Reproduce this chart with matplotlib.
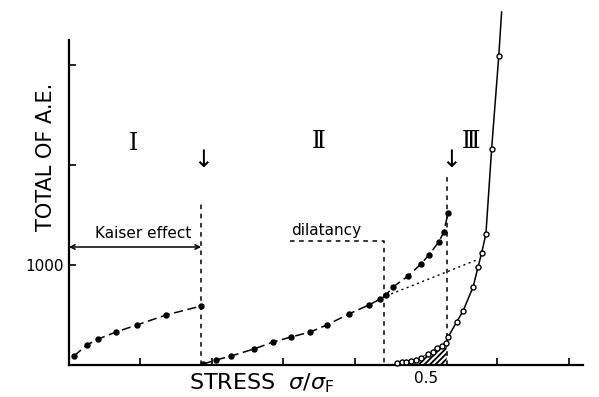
import numpy as np
import matplotlib
matplotlib.use("Agg")
import matplotlib.pyplot as plt

matplotlib.rcParams["hatch.linewidth"] = 1.3

# total A.E. counts vs stress ratio
# region I (Kaiser effect), filled dots
stress_a = [0.007, 0.025, 0.041, 0.066, 0.095, 0.136, 0.185]
ae_a = [90, 200, 260, 330, 400, 500, 590]

# region II, filled dots
stress_b = [0.188, 0.206, 0.227, 0.259, 0.286, 0.311, 0.338, 0.361, 0.392,
            0.420, 0.436, 0.444, 0.454, 0.475, 0.493, 0.504, 0.518, 0.525, 0.531]
ae_b = [10, 50, 90, 160, 230, 280, 330, 400, 510,
        600, 660, 700, 780, 890, 1010, 1100, 1230, 1330, 1520]

# virgin loading, open circles
stress_c = [0.459, 0.466, 0.472, 0.479, 0.486, 0.493, 0.503, 0.510, 0.515,
            0.522, 0.528, 0.531, 0.543, 0.552, 0.566, 0.573, 0.578, 0.584,
            0.592, 0.602]
ae_c = [20, 30, 30, 40, 50, 70, 110, 130, 170,
        190, 220, 280, 430, 540, 780, 980, 1120, 1310,
        2160, 3090]
ae_c_top = (0.606, 3530)   # line keeps going past the axis

kaiser_end = 0.185
onset_dil = 0.441
onset_III = 0.529

fig = plt.figure(figsize=(5.99, 3.97), dpi=100)
ax = fig.add_axes([69 / 599, 32 / 397, 514 / 599, 325 / 397])
ax.set_xlim(0, 0.72)
ax.set_ylim(0, 3250)

for s in ["top", "right"]:
    ax.spines[s].set_visible(False)
for s in ["left", "bottom"]:
    ax.spines[s].set_linewidth(1.6)

ax.set_xticks([0.1, 0.2, 0.3, 0.4, 0.5, 0.6, 0.7])
ax.set_xticklabels(["", "", "", "", "0.5", "", ""])
ax.set_yticks([1000, 2000, 3000])
ax.set_yticklabels(["1000", "", ""])
ax.tick_params(direction="in", length=5, width=1.2, labelsize=11, pad=4)

# curves
ax.plot(stress_a, ae_a, color="black", lw=1.1, ls=(0, (6, 3)),
        marker="o", ms=3.6, mfc="black", mec="black")
ax.plot(stress_b, ae_b, color="black", lw=1.1, ls=(0, (6, 3)),
        marker="o", ms=3.6, mfc="black", mec="black")
ax.plot(stress_c + [ae_c_top[0]], ae_c + [ae_c_top[1]], color="black",
        lw=1.1, clip_on=False)
ax.plot(stress_c, ae_c, ls="none", marker="o", ms=3.6, mfc="white",
        mec="black", mew=1.0, clip_on=False, zorder=3)

# hatched area under the open-circle curve
xs = np.linspace(0.484, onset_III, 40)
ys = np.interp(xs, stress_c, ae_c)
ax.fill_between(xs, 0, ys, facecolor="white", edgecolor="black",
                hatch="//////", lw=0, zorder=2)

# region boundaries
ax.plot([kaiser_end, kaiser_end], [0, 1620], color="black", lw=1.1,
        ls=(0, (3, 3)))
ax.plot([onset_III, onset_III], [0, 1900], color="black", lw=1.1,
        ls=(0, (3, 3)))
ax.plot([0.310, onset_dil, onset_dil], [1240, 1240, 0], color="black",
        lw=1.1, ls=(0, (3, 3)))
ax.plot([0.444, 0.571], [690, 1050], color="black", lw=1.0,
        ls=(0, (1.5, 2.5)))

# Kaiser effect arrow
ax.annotate("", xy=(0.0, 1180), xytext=(kaiser_end, 1180),
            arrowprops=dict(arrowstyle="<->", lw=1.1, color="black",
                            shrinkA=0, shrinkB=0, mutation_scale=8))
ax.text(0.037, 1320, "Kaiser effect", fontsize=11, ha="left", va="center")
ax.text(0.311, 1350, "dilatancy", fontsize=11, ha="left", va="center")

# region labels and arrows
ax.text(0.090, 2220, "Ⅰ", fontsize=17, ha="center", va="center",
        family="DejaVu Serif")
ax.text(0.350, 2230, "Ⅱ", fontsize=17, ha="center", va="center",
        family="DejaVu Serif")
ax.text(0.563, 2230, "Ⅲ", fontsize=17, ha="center", va="center",
        family="DejaVu Serif")
ax.text(0.188, 2050, "↓", fontsize=17, ha="center", va="center")
ax.text(0.535, 2050, "↓", fontsize=17, ha="center", va="center")

fig.text(46 / 599, 1 - 157 / 397, "TOTAL OF A.E.", rotation=90,
         fontsize=15, ha="center", va="center")
fig.text(262 / 599, 1 - 383 / 397, r"STRESS  $\sigma/\sigma_{\mathrm{F}}$",
         fontsize=16, ha="center", va="center")

fig.savefig("out.png", dpi=100)
